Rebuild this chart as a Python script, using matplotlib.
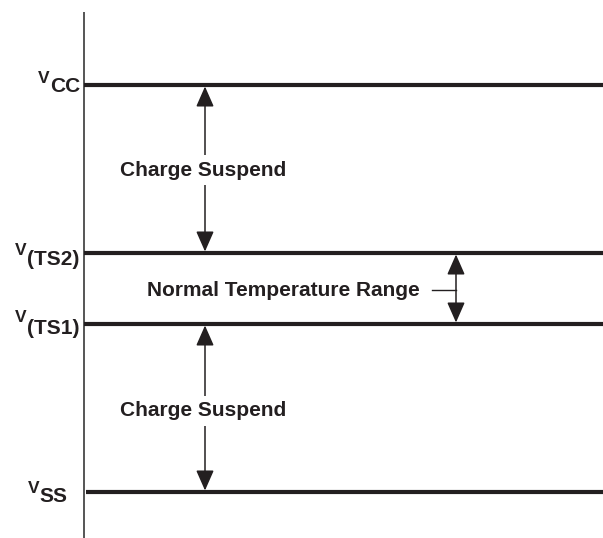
import matplotlib.pyplot as plt

plt.rcParams['font.family'] = ['Liberation Sans', 'DejaVu Sans']

# levels (pixel-like units, y grows downward)
level_names = ['CC', '(TS2)', '(TS1)', 'SS']
level_y = [85, 253, 324, 492]

# region labels
region_text = ['Charge Suspend', 'Normal Temperature Range', 'Charge Suspend']
region_x = [203, 283, 203]
region_y = [170, 291, 411]

# double arrows
arrow_x = [205, 456, 205]
arrow_from = [85, 253, 324]
arrow_to = [253, 324, 492]

ink = '#231f20'

# label placement per level: (right edge of subscript, V baseline offset, sub baseline offset)
label_pos = {'CC': (80, -2, 7), '(TS2)': (79, 2, 12), '(TS1)': (79, -2, 10), 'SS': (67, 1, 10)}

fig = plt.figure(figsize=(6.03, 5.38), dpi=100)
ax = fig.add_axes([0, 0, 1, 1])
ax.set_xlim(0, 603)
ax.set_ylim(538, 0)
ax.axis('off')

# vertical axis
ax.plot([83.5, 83.5], [12, 538], color='#555555', lw=1.4, solid_capstyle='butt')

fig.canvas.draw()
for name, y in zip(level_names, level_y):
    x0 = 86 if name == 'SS' else 84
    ax.plot([x0, 603], [y, y], color=ink, lw=3, solid_capstyle='butt')
    xr, dv, ds = label_pos[name]
    t = ax.text(xr, y + ds, name, fontsize=15, fontweight='bold', color=ink,
                ha='right', va='baseline')
    bb = t.get_window_extent(renderer=fig.canvas.get_renderer())
    x_left = ax.transData.inverted().transform((bb.x0, bb.y0))[0]
    ax.text(x_left, y + dv, 'V', fontsize=12.5, fontweight='bold', color=ink,
            ha='right', va='baseline')

# arrows
for x, y0, y1 in zip(arrow_x, arrow_from, arrow_to):
    ax.annotate('', xy=(x, y1 - 1.5), xytext=(x, y0 + 1.5),
                arrowprops=dict(arrowstyle='<|-|>,head_length=1.25,head_width=0.55',
                                color=ink, lw=1.1, shrinkA=0, shrinkB=0,
                                mutation_scale=10))

# small leader for the normal range label
ax.plot([432, 456], [290, 290], color=ink, lw=1.0)

for txt, x, y in zip(region_text, region_x, region_y):
    ax.text(x, y, txt, fontsize=15, fontweight='bold', color=ink,
            ha='center', va='center',
            bbox=dict(facecolor='white', edgecolor='none', pad=4))

fig.savefig('out.png', dpi=100)
